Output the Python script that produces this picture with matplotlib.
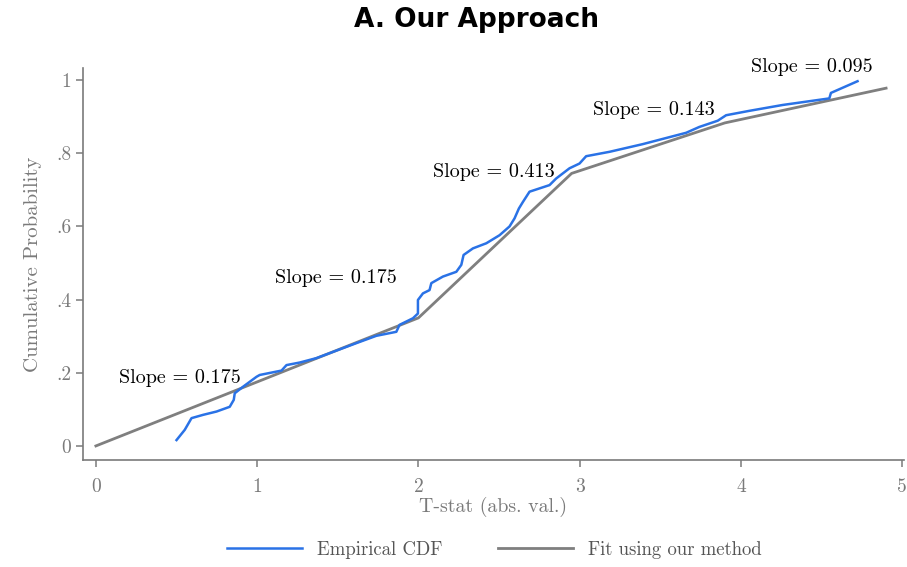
import matplotlib
matplotlib.use("Agg")
import matplotlib.pyplot as plt

plt.rcParams['font.family'] = ['cmr10', 'DejaVu Serif']
plt.rcParams['axes.formatter.use_mathtext'] = True
plt.rcParams['mathtext.fontset'] = 'cm'

# empirical CDF
ecdf_x = [0.500, 0.551, 0.593, 0.665, 0.748, 0.830, 0.855, 0.861, 0.913, 0.996,
          1.016, 1.151, 1.182, 1.264, 1.367, 1.615, 1.739, 1.863, 1.883, 1.966,
          1.997, 1.997, 2.028, 2.069, 2.080, 2.152, 2.235, 2.266, 2.280, 2.338,
          2.421, 2.503, 2.565, 2.596, 2.623, 2.648, 2.689, 2.813, 2.854, 2.937,
          2.999, 3.040, 3.185, 3.391, 3.660, 3.742, 3.856, 3.908, 4.052, 4.258,
          4.548, 4.558, 4.723]
ecdf_y = [0.016, 0.044, 0.076, 0.085, 0.094, 0.107, 0.126, 0.144, 0.162, 0.189,
          0.194, 0.206, 0.221, 0.228, 0.240, 0.281, 0.301, 0.312, 0.331, 0.349,
          0.362, 0.399, 0.417, 0.426, 0.445, 0.463, 0.476, 0.495, 0.522, 0.540,
          0.554, 0.576, 0.600, 0.622, 0.649, 0.667, 0.695, 0.713, 0.731, 0.759,
          0.772, 0.792, 0.804, 0.825, 0.856, 0.872, 0.889, 0.904, 0.916, 0.932,
          0.950, 0.965, 0.997]

# piecewise linear fit
fit_x = [0, 2.0, 2.95, 3.9, 4.9]
fit_y = [0, 0.35, 0.745, 0.883, 0.978]

slope_labels = ['Slope = 0.175', 'Slope = 0.175', 'Slope = 0.413', 'Slope = 0.143', 'Slope = 0.095']
label_x = [0.52, 1.49, 2.47, 3.46, 4.44]
label_y = [0.186, 0.459, 0.749, 0.918, 1.036]

grey = '#7a7a7a'

fig = plt.figure(figsize=(9.07, 5.67), dpi=100)
ax = fig.add_axes([0.0915, 0.189, 0.905, 0.691])

ax.plot(ecdf_x, ecdf_y, color='#2a72e6', lw=1.8, label='Empirical CDF', zorder=3)
ax.plot(fit_x, fit_y, color='#7f7f7f', lw=2.0, label='Fit using our method', zorder=2)

for t, x, y in zip(slope_labels, label_x, label_y):
    ax.text(x, y, t, ha='center', va='center', fontsize=14.5, color='black')

ax.set_xlim(-0.08, 5.01)
ax.set_ylim(-0.038, 1.033)
ax.set_xticks([0, 1, 2, 3, 4, 5])
ax.set_xticklabels(['0', '1', '2', '3', '4', '5'])
ax.set_yticks([0, 0.2, 0.4, 0.6, 0.8, 1.0])
ax.set_yticklabels(['0', '.2', '.4', '.6', '.8', '1'])

for s in ['top', 'right']:
    ax.spines[s].set_visible(False)
for s in ['left', 'bottom']:
    ax.spines[s].set_color(grey)
    ax.spines[s].set_linewidth(1.2)
ax.tick_params(colors=grey, labelsize=14, length=5, width=1.1)
ax.tick_params(axis='x', pad=8)

ax.set_xlabel('T-stat (abs. val.)', color=grey, fontsize=14.3, labelpad=1)
ax.set_ylabel('Cumulative Probability', color=grey, fontsize=15, labelpad=10)

fig.text(0.525, 0.965, 'A. Our Approach', fontfamily='DejaVu Sans', fontweight='bold',
         fontsize=19, ha='center', va='center')

leg = ax.legend(loc='lower center', ncol=2, frameon=False,
                fontsize=13.5, handlelength=4.0, columnspacing=3.0)
leg.set_bbox_to_anchor((0.545, -0.015), transform=fig.transFigure)
for txt in leg.get_texts():
    txt.set_color('#555555')

fig.savefig('out.png', dpi=100)
